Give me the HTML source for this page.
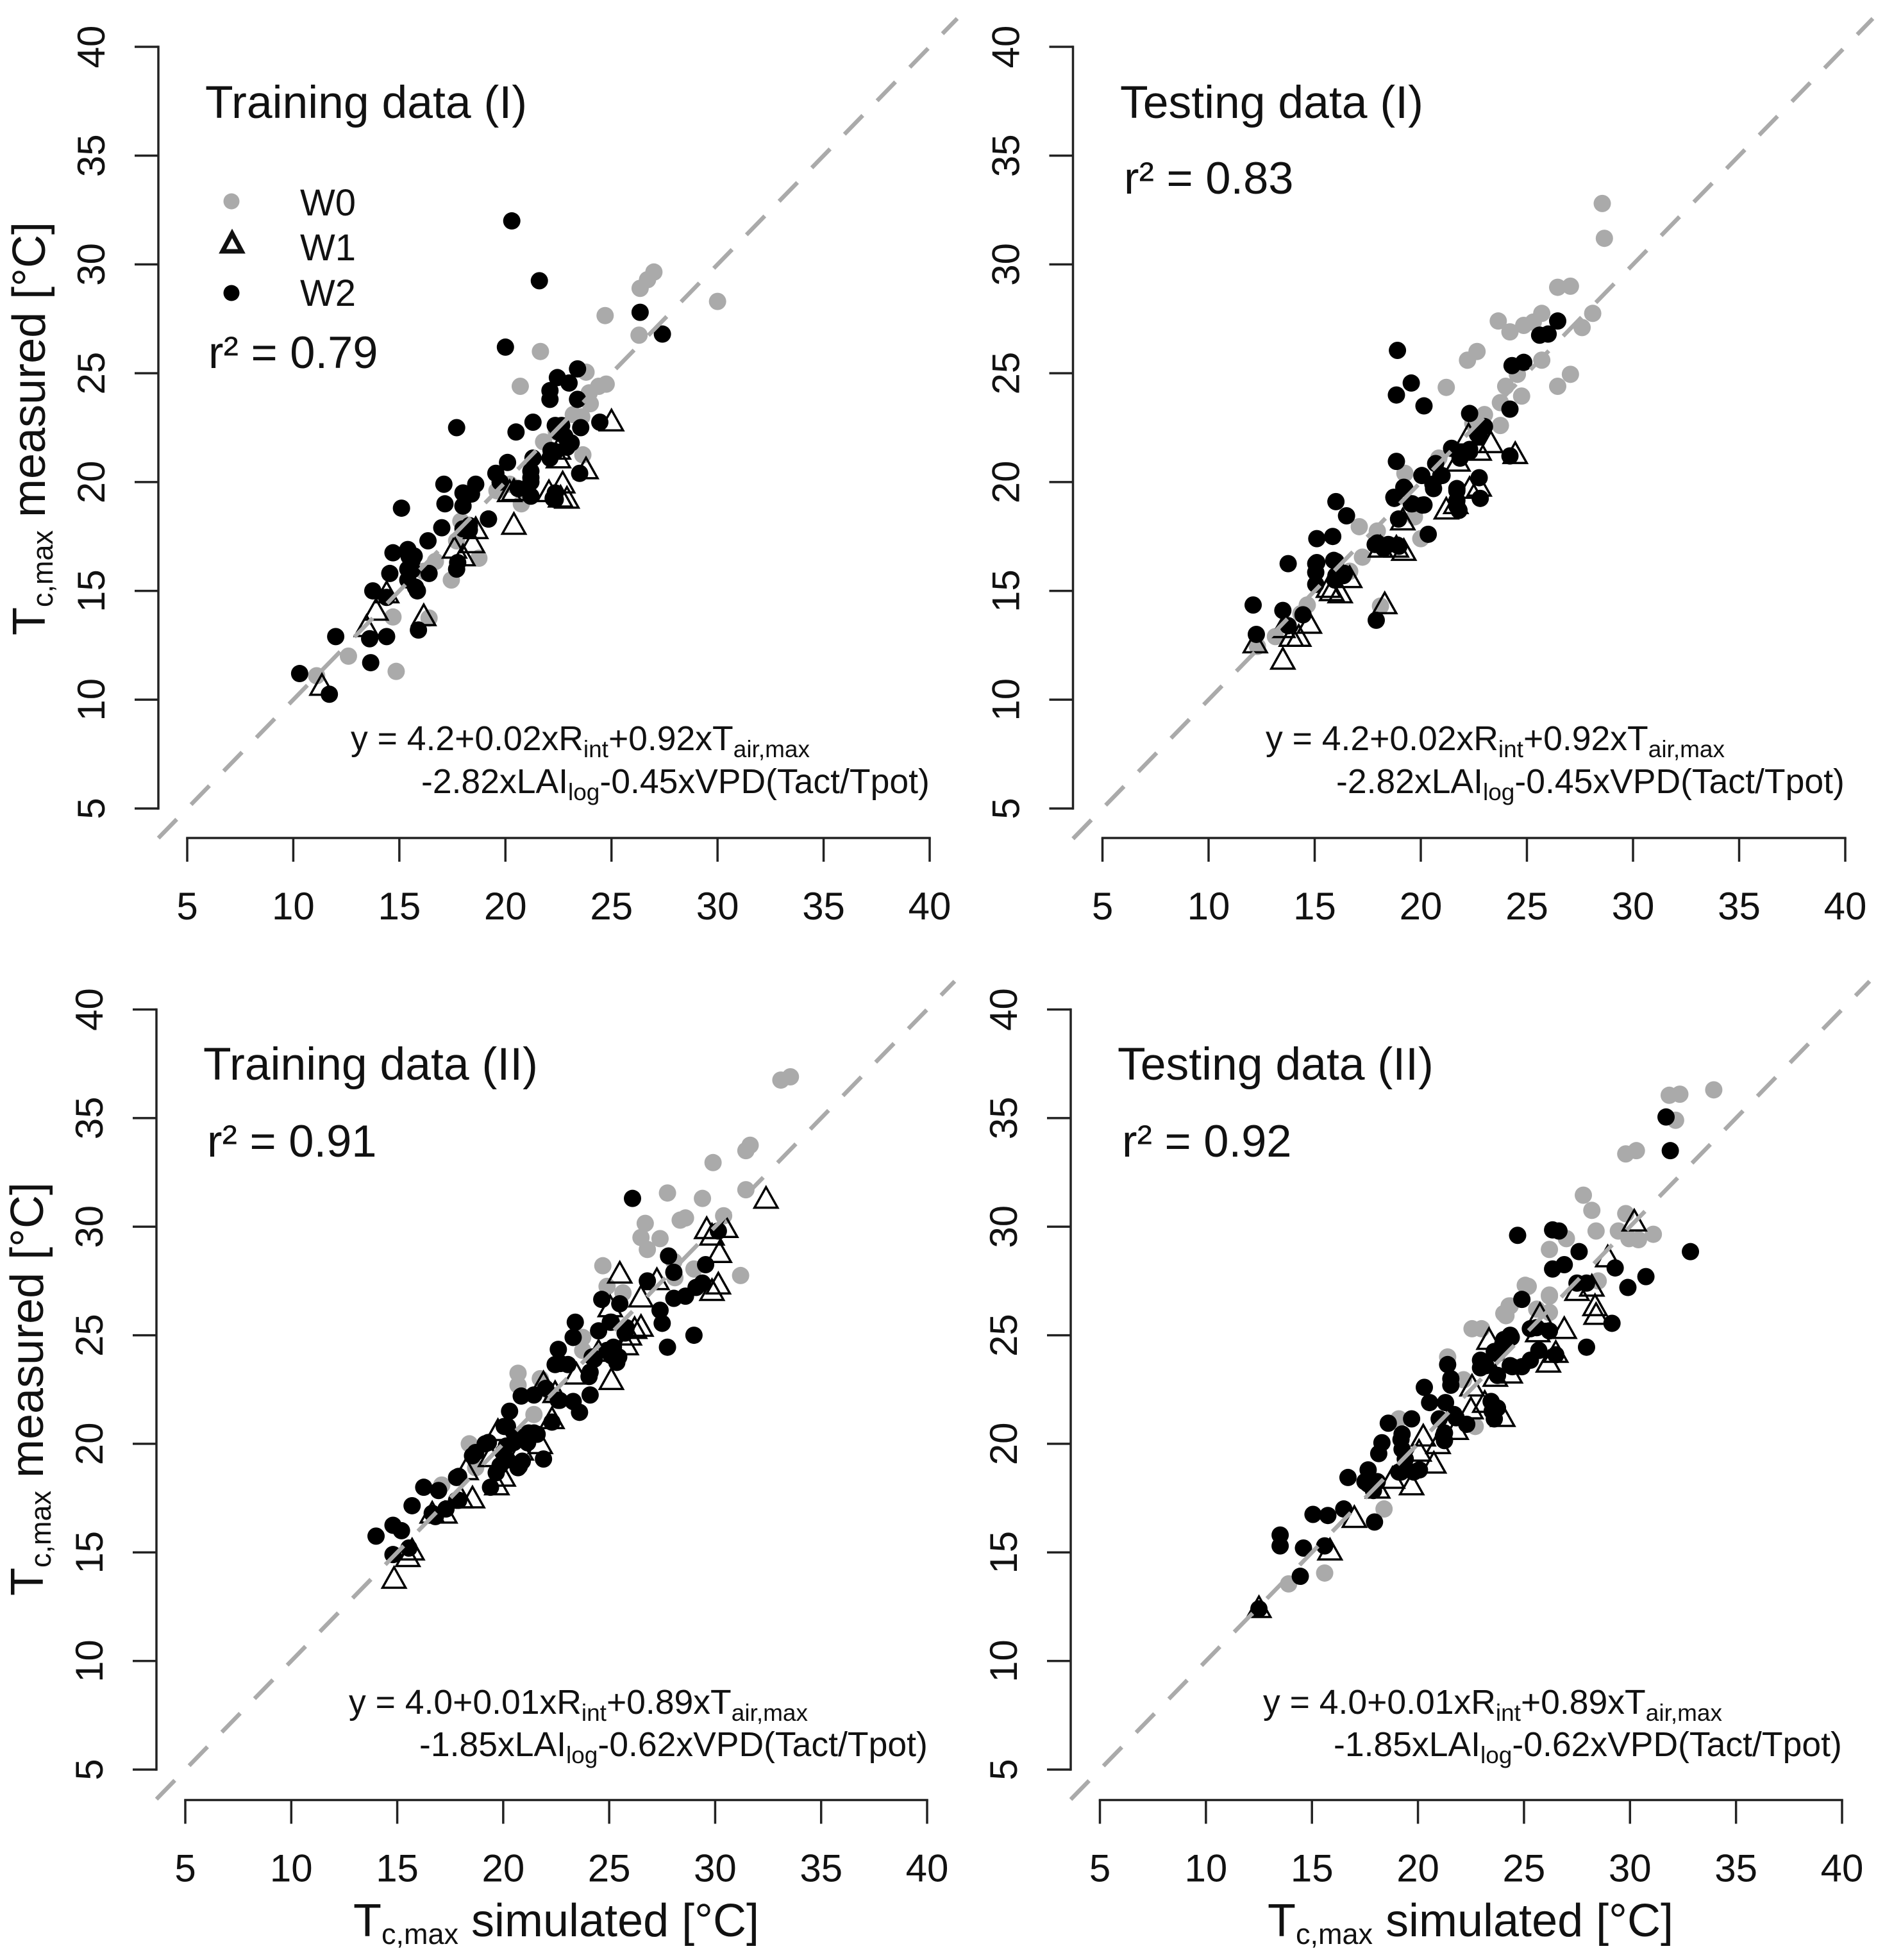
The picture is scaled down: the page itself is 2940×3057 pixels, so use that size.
<!DOCTYPE html>
<html lang="en">
<head>
<meta charset="utf-8">
<title>Tc,max measured vs simulated</title>
<style>
html,body{margin:0;padding:0;background:#fff;width:2940px;height:3057px;overflow:hidden}
svg{display:block}
text{font-family:"Liberation Sans",Arial,sans-serif;fill:#111}
.title{font-size:71.5px}
.r2{font-size:70.5px}
.formula{font-size:53.5px}
.axt{font-size:72px}
.leg{font-size:58px}
</style>
</head>
<body>
<svg id="figure" xmlns="http://www.w3.org/2000/svg" width="2940" height="3057" viewBox="0 0 2940 3057">
<rect width="2940" height="3057" fill="#fff"/>
<g id="marks"></g>

<g>
<circle cx="361" cy="314" r="12.5" fill="#aaaaaa"/>
<polygon points="362,364 377,392 347,392" fill="none" stroke="#111" stroke-width="7"/>
<circle cx="361" cy="457" r="12.5" fill="#000"/>
<text class="leg" x="468" y="336">W0</text>
<text class="leg" x="468" y="406">W1</text>
<text class="leg" x="468" y="477">W2</text>
</g>

<text class="title" x="320" y="184">Training data (I)</text>
<text class="r2" x="325" y="574">r² = 0.79</text>
<text class="formula" x="547" y="1170">y = 4.2+0.02xR<tspan font-size="37" dy="11">int</tspan><tspan dy="-11">+0.92xT</tspan><tspan font-size="37" dy="11">air,max</tspan></text>
<text class="formula" x="657" y="1237">-2.82xLAI<tspan font-size="37" dy="11">log</tspan><tspan dy="-11">-0.45xVPD(Tact/Tpot)</tspan></text>
<text class="axt" transform="translate(70,991) rotate(-90)">T<tspan font-size="45" dy="12">c,max</tspan><tspan dy="-12"> measured [°C]</tspan></text>

<text class="title" x="1747" y="184">Testing data (I)</text>
<text class="r2" x="1753" y="302">r² = 0.83</text>
<text class="formula" x="1974" y="1170">y = 4.2+0.02xR<tspan font-size="37" dy="11">int</tspan><tspan dy="-11">+0.92xT</tspan><tspan font-size="37" dy="11">air,max</tspan></text>
<text class="formula" x="2084" y="1237">-2.82xLAI<tspan font-size="37" dy="11">log</tspan><tspan dy="-11">-0.45xVPD(Tact/Tpot)</tspan></text>

<text class="title" x="317" y="1684">Training data (II)</text>
<text class="r2" x="323" y="1804">r² = 0.91</text>
<text class="formula" x="544" y="2673">y = 4.0+0.01xR<tspan font-size="37" dy="11">int</tspan><tspan dy="-11">+0.89xT</tspan><tspan font-size="37" dy="11">air,max</tspan></text>
<text class="formula" x="654" y="2739">-1.85xLAI<tspan font-size="37" dy="11">log</tspan><tspan dy="-11">-0.62xVPD(Tact/Tpot)</tspan></text>
<text class="axt" transform="translate(67,2489) rotate(-90)">T<tspan font-size="45" dy="12">c,max</tspan><tspan dy="-12"> measured [°C]</tspan></text>
<text class="axt" x="551" y="3020">T<tspan font-size="45" dy="12">c,max</tspan><tspan dy="-12"> simulated [°C]</tspan></text>

<text class="title" x="1743" y="1684">Testing data (II)</text>
<text class="r2" x="1750" y="1804">r² = 0.92</text>
<text class="formula" x="1970" y="2673">y = 4.0+0.01xR<tspan font-size="37" dy="11">int</tspan><tspan dy="-11">+0.89xT</tspan><tspan font-size="37" dy="11">air,max</tspan></text>
<text class="formula" x="2080" y="2739">-1.85xLAI<tspan font-size="37" dy="11">log</tspan><tspan dy="-11">-0.62xVPD(Tact/Tpot)</tspan></text>
<text class="axt" x="1977" y="3020">T<tspan font-size="45" dy="12">c,max</tspan><tspan dy="-12"> simulated [°C]</tspan></text>
</svg>

<script>
// Shared axis ticks
const tickValues = [5, 10, 15, 20, 25, 30, 35, 40];
const tickLabels = ['5', '10', '15', '20', '25', '30', '35', '40'];

// Training data (I)
const train1W0x = [26.35,26.7,27,30,24.7,26.3,21.65,20.7,23.8,24.75,24.4,23.95,24,23.2,23.6,23.65,21.8,19.6,20.75,18.75,17.45,16.4,14.7,14.85,12.6,11.1,16.7,16.15,17.9,17.7,22.4,20.2];
const train1W0y = [28.9,29.3,29.65,28.3,27.65,26.75,26,24.4,25.05,24.5,24.4,24.1,23.6,23.1,23,21.25,21.85,19.6,19,16.5,15.5,13.75,13.8,11.3,12,11.1,16.35,15.9,18.2,17.3,22.3,19.9];
const train1W1x = [25,22.5,22.5,23.8,22.7,22.9,22.05,20.2,20.4,18.45,17.6,18,18.6,16.15,13.9,13.45,11.35,14.4,20.4,22.6];
const train1W1y = [22.7,21,21.4,20.5,19.85,19.15,19.45,19.45,17.95,17.1,16.85,16.5,17.75,13.75,14,13.25,10.55,14.8,19.5,19.2];
const train1W2x = [20.3,21.6,20,26.35,27.4,23.4,22.45,23,22.1,22.1,23.4,21.3,20.5,17.7,22.35,22.65,23.55,24.45,22.8,23.1,22.35,22.1,21.3,20.1,19.55,21.2,23.5,19.75,21.2,17.1,18.6,17.15,18,18.4,19.2,18,20.6,21.2,22.35,22.35,15.1,17,18.1,16.35,14.7,15.4,15.6,17.7,15.4,14.55,15.4,16.4,13.75,15.85,15.9,13.6,14.4,13.65,12,10.3,11.7,15.7,18.3,15.46,15.6,15.76,14.4,18.3,18,19.2,18.2,18,17.75,22.5,22.9,21.2,22.25,22.15];
const train1W2y = [32,29.25,26.2,27.8,26.8,25.2,24.8,24.55,24.2,23.8,23.8,22.75,22.3,22.5,22.6,22.6,22.5,22.75,22.1,21.8,21.4,21.1,21.1,20.9,20.4,20.5,20.4,20,20,19.9,19.9,19,19.5,19.45,18.3,18.9,19.7,19.35,19.5,19.2,18.8,17.9,17.85,17.3,16.75,16.9,16.4,16,16,15.8,15.5,15.8,15,15,13.2,12.8,12.9,11.7,12.9,11.2,10.25,16.6,17.8,16.58,15.96,15.17,14.7,18,17.85,18.3,19.4,18.9,16.3,22.3,21.6,20.2,19.25,21.45];

// Testing data (I)
const test1W0x = [28.55,28.65,26.45,27.05,28.1,27.6,23.65,24.2,24.85,25.3,25.7,22.2,22.65,25.7,26.45,27.05,21.2,24,24.75,24.55,23.75,23.75,23,22.45,19.25,17.1,17.95,20,19.7,17.25,16.65,14.65,14.35,13.15,12.3,18.1,20.85];
const test1W0y = [32.8,31.2,28.95,29,27.75,27.1,27.4,26.9,27.2,27.35,27.75,25.6,26,25.6,24.4,24.95,24.35,24.4,23.95,24.95,23.65,22.6,23.1,22.7,20.4,17.95,17.75,17.4,18.4,16.55,15.9,14.35,13.95,12.9,12.45,14.3,21.1];
const test1W1x = [24.45,23.3,22.75,22.25,21.75,22.75,22.3,21.65,21.2,19.15,19.2,18.1,18.85,18.3,16.65,16.2,15.8,15.65,14.75,14.25,13.9,13.5,13.5,12.2];
const test1W1y = [21.2,21.7,21.35,22.05,20.85,19.7,19.6,18.9,18.65,18.15,16.75,16.9,16.9,14.3,15.5,14.8,14.9,15.05,13.4,12.8,12.8,13.2,11.75,12.5];
const test1W2x = [18.9,19.55,18.85,20.15,26.45,25.6,26,24.3,24.85,24.2,22.3,23,22.75,24.2,21.45,22.3,21.85,20.7,18.85,20.05,22.75,21,20.6,21.7,19.25,18.75,19.55,22.8,20.15,21.7,18.95,16,16.5,20.35,15.1,15.85,17.95,18.9,18.25,13.75,15.05,16,15.05,16.35,15.95,15.05,12.1,13.5,14.45,12.25,13.75,17.9,21.8,17.85,18.47,18.97,21.7,21.7,21.93,22.3,22.67,20.57,20.94,19.2,18.73,19.6,20.08,16,16.4,15.1,15.9];
const test1W2y = [26.05,24.55,24,23.5,27.4,26.75,26.8,25.35,25.5,23.35,23.15,22.55,22.1,21.2,21.55,21.4,21.1,20.85,20.95,20.3,20.2,20.3,19.7,19.7,19.7,19.25,19,19.25,18.95,19.15,18.3,19.1,18.45,17.6,17.4,17.5,17.2,17.1,16.95,16.25,16.25,16.35,15.85,15.7,15.5,15.3,14.35,14.1,13.9,13,13.4,13.65,18.7,17.13,17.13,17.05,19.6,18.9,21.3,21.5,22.2,19.9,20.3,19.76,19.3,19,18.94,15.7,15.8,16.3,16.4];

// Training data (II)
const train2W0x = [33.1,33.55,31.65,31.45,29.9,31.45,27.75,29.4,26.7,28.35,28.6,26.5,26.8,27.4,30.4,24.7,29,31.2,28.1,28.05,24.9,25.65,20.7,20.7,21.75,18.4,23.75,14.8,17.1,18.7,22.3,21.45,23.75];
const train2W0y = [36.75,36.9,33.75,33.5,32.95,31.7,31.55,31.3,30.15,30.3,30.4,29.5,28.95,29.45,30.5,28.2,28.05,27.75,27.65,28.4,27.25,26.95,23.25,22.7,23,20,24.3,14.9,18.1,18.9,22.25,21.35,24.9];
const train2W1x = [32.4,29.6,29.85,30.5,30.2,30.15,29.85,25.5,27.25,26.5,25.05,26.5,26.2,25.95,25.8,25.1,24.5,23.45,22.3,22.45,21.9,19.75,21.75,19.4,18.55,18,19.7,17.25,16.65,14.85,15.5,15.7,20,18.25,20.85];
const train2W1y = [31.2,29.8,29.5,29.85,28.7,27.25,26.95,27.75,27.45,26.65,26.2,25.3,25.2,24.9,24.45,22.85,24.15,23.1,21.05,22.25,22.7,20.5,19.9,19.3,17.4,17.4,18,16.7,16.7,13.7,14.7,15,18.4,18.7,19.6];
const train2W2x = [26.1,30.15,27.8,29.55,28.05,26.8,29.4,29.1,28.6,28.05,27.4,24.65,25.5,27.5,23.4,29,27.75,25.05,24.5,25.8,23.3,22.6,25.2,24.9,22.45,23.05,24.2,25.45,24.05,24.1,20.85,21.45,22,22.6,23.3,23.6,20.3,22.3,20.05,20.6,21.45,19.15,18.55,21.15,21.9,20,20.7,19.85,19.4,17.8,16.95,16.25,15.7,17.8,16.8,14.8,15.2,14,15.55,14.8,20.15,20.15,20.9,17.3,19.67,20.2,20.76,21.2,21.6,20.5,20.2,19.3,18.7,17.9,17.9,16.65,25.1,25.36,24.3,25.1,25.75,22.7,24.1,22.66];
const train2W2y = [31.3,29.8,28.65,28.25,27.9,27.5,27.4,27.2,26.8,26.7,26.15,26.65,26.45,25.55,25.6,25,24.45,25.6,25.2,25.35,24.9,24.35,24.45,24.3,23.65,23.65,24,24,23.1,22.25,22.2,22.25,22.55,22,21.95,21.45,21.5,21,20.8,20.35,20.5,20,19.45,20.05,19.3,19.6,18.9,19,18,18.45,17.85,18,17.15,17.4,16.65,16.25,16,15.75,15.2,14.9,19.3,19.9,19.2,17,18.67,19.26,18.97,20.5,20.44,20.06,20.8,20.06,19.6,18.5,17.4,16.8,24.06,23.75,23.9,25.6,25.1,23.7,23.3,22];

// Testing data (II)
const test2W0x = [31.85,32.35,33.95,32.15,29.8,30.3,27.8,28.2,29.8,28.4,29.45,31.1,29.95,30.4,27,26.2,28.5,25.2,26.2,24.3,24.15,26.2,25.6,22.55,23,21.4,22.15,19.1,22.7,18.4,15.6,13.9,24.9,24.35,24.05,25.06,26.2];
const test2W0y = [36.05,36.1,36.3,34.9,33.35,33.5,31.45,30.75,30.6,29.8,29.8,29.65,29.45,29.4,29.45,28.95,27.5,27.25,26.8,26.35,25.9,26.05,26.2,25.3,25.3,24,22.95,21.15,20.8,17,14.05,13.55,26.65,26.35,26,27.3,26.85];
const test2W1x = [30.2,28.95,28.2,27.5,28.35,28.4,26.9,25.75,25.65,26.5,26.15,24.35,23.35,23.65,22.55,23.15,22.5,24,21.8,20.25,20.95,20.75,20.05,19.7,18.1,18.8,17,15.85,12.5];
const test2W1y = [30.15,28.5,27.15,26.95,26.25,25.85,25.2,25.85,25.05,24.1,23.65,23.15,24.7,23,22.55,21.8,21.5,21.15,20.55,20.25,19.9,19,19.55,18,17.85,18.3,16.5,15,12.35];
const test2W2x = [31.7,31.9,32.85,24.7,26.35,26.65,27.6,29.3,26.9,26.35,30.75,29.9,27.5,27.95,24.9,29.15,27.95,26.2,25.3,25.6,24.4,24,23.75,22.95,22.95,21.4,26.5,25.7,25.3,24.9,24.45,23.75,21.55,21.55,20.3,20.55,21.3,21.7,21,22.3,23.45,23.75,23.6,19.7,18.6,18.3,18.15,19.25,21.25,21.25,19.25,19.4,19.8,19.1,17.65,16.7,17.65,17.9,16.5,17.95,15.75,15.05,13.5,13.5,14.6,15.6,14.45,12.5,17.5,18.08,19.2,20.07,19.2,21.2,21.8,23.5,23.2,24.35,23.6,24.05,24.35];
const test2W2y = [35.05,33.5,28.85,29.6,29.85,29.8,28.85,28.1,28.25,28.05,27.7,27.2,27.4,27.4,26.65,25.55,24.45,25.2,25.3,25.35,24.9,24.6,24.15,23.85,23.5,23.65,24.1,24.3,23.85,23.55,23.55,23.15,23,22.7,22.6,21.9,21.9,21.35,21.15,20.9,21.95,21.65,21.15,21.15,20.95,20.05,19.55,20.45,20.5,20.15,19.75,19.3,18.7,18.7,18.8,18.45,18.15,17.85,17,16.4,16.7,16.75,15.8,15.3,15.2,15.3,13.9,12.4,18.26,18.26,18.7,18.8,20.2,20.35,21.2,21.5,23.6,23.6,24.25,24.8,25];

const SVG_NS = 'http://www.w3.org/2000/svg';
const layer = document.getElementById('marks');

function shape(tag, attrs, parent) {
  const node = document.createElementNS(SVG_NS, tag);
  for (const k in attrs) node.setAttribute(k, attrs[k]);
  parent.appendChild(node);
  return node;
}

function drawPanel(name, frame, w0x, w0y, w1x, w1y, w2x, w2y) {
  const domainLo = tickValues[0];
  const domainHi = tickValues[tickValues.length - 1];
  const sx = v => frame.left + (v - domainLo) * (frame.right - frame.left) / (domainHi - domainLo);
  const sy = v => frame.bottom - (v - domainLo) * (frame.bottom - frame.top) / (domainHi - domainLo);

  const panel = shape('g', {}, layer);
  
  

  // W0 points
  w0x.forEach((v, i) => {
    const dot = shape('circle', {cx: sx(v), cy: sy(w0y[i]), r: 13.5, fill: '#aaaaaa'}, panel);
    
    
  });

  // W1 points
  w1x.forEach((v, i) => {
    const cx = sx(v), cy = sy(w1y[i]);
    const pts = cx + ',' + (cy - 21) + ' ' + (cx + 18) + ',' + (cy + 11) + ' ' + (cx - 18) + ',' + (cy + 11);
    const tri = shape('polygon', {points: pts, fill: 'none', stroke: '#000', 'stroke-width': 3.5}, panel);
    
    
  });

  // W2 points
  w2x.forEach((v, i) => {
    const dot = shape('circle', {cx: sx(v), cy: sy(w2y[i]), r: 13.5, fill: '#000'}, panel);
    
    
  });

  // 1:1 reference line, clipped to the plot region
  const lineLo = domainLo - (frame.left - frame.axisX) / ((frame.right - frame.left) / (domainHi - domainLo));
  const lineHi = domainHi + 1.3;
  const ref = shape('line', {x1: sx(lineLo), y1: sy(lineLo), x2: sx(lineHi), y2: sy(lineHi),
    stroke: '#aaaaaa', 'stroke-width': 6.5, 'stroke-dasharray': '41 32'}, panel);
  
  

  // Y axis
  const yAxis = shape('line', {x1: frame.axisX, y1: sy(domainLo), x2: frame.axisX, y2: sy(domainHi), stroke: '#222', 'stroke-width': 3.5, 'stroke-linecap': 'square'}, panel);
  
  
  tickValues.forEach((v, i) => {
    const tick = shape('line', {x1: frame.axisX - 37, y1: sy(v), x2: frame.axisX, y2: sy(v), stroke: '#222', 'stroke-width': 3.5}, panel);
    
    
    const lab = shape('text', {'font-size': 60, 'text-anchor': 'middle',
      transform: 'translate(' + (frame.axisX - 84) + ',' + sy(v) + ') rotate(-90)'}, panel);
    lab.textContent = tickLabels[i];
    
    
  });

  // X axis
  const xAxis = shape('line', {x1: sx(domainLo), y1: frame.axisY, x2: sx(domainHi), y2: frame.axisY, stroke: '#222', 'stroke-width': 3.5, 'stroke-linecap': 'square'}, panel);
  
  
  tickValues.forEach((v, i) => {
    const tick = shape('line', {x1: sx(v), y1: frame.axisY, x2: sx(v), y2: frame.axisY + 37, stroke: '#222', 'stroke-width': 3.5}, panel);
    
    
    const lab = shape('text', {'font-size': 60, 'text-anchor': 'middle', x: sx(v), y: frame.axisY + 127}, panel);
    lab.textContent = tickLabels[i];
    
    
  });
}

drawPanel('training-1', {left: 292, right: 1450, top: 73, bottom: 1261, axisX: 247, axisY: 1307},
  train1W0x, train1W0y, train1W1x, train1W1y, train1W2x, train1W2y);
drawPanel('testing-1', {left: 1719.5, right: 2878, top: 73, bottom: 1261, axisX: 1673.5, axisY: 1307},
  test1W0x, test1W0y, test1W1x, test1W1y, test1W2x, test1W2y);
drawPanel('training-2', {left: 289, right: 1446, top: 1574.5, bottom: 2760, axisX: 244, axisY: 2807.5},
  train2W0x, train2W0y, train2W1x, train2W1y, train2W2x, train2W2y);
drawPanel('testing-2', {left: 1715.5, right: 2873, top: 1574.5, bottom: 2760, axisX: 1670, axisY: 2807.5},
  test2W0x, test2W0y, test2W1x, test2W1y, test2W2x, test2W2y);
</script>
</body>
</html>
